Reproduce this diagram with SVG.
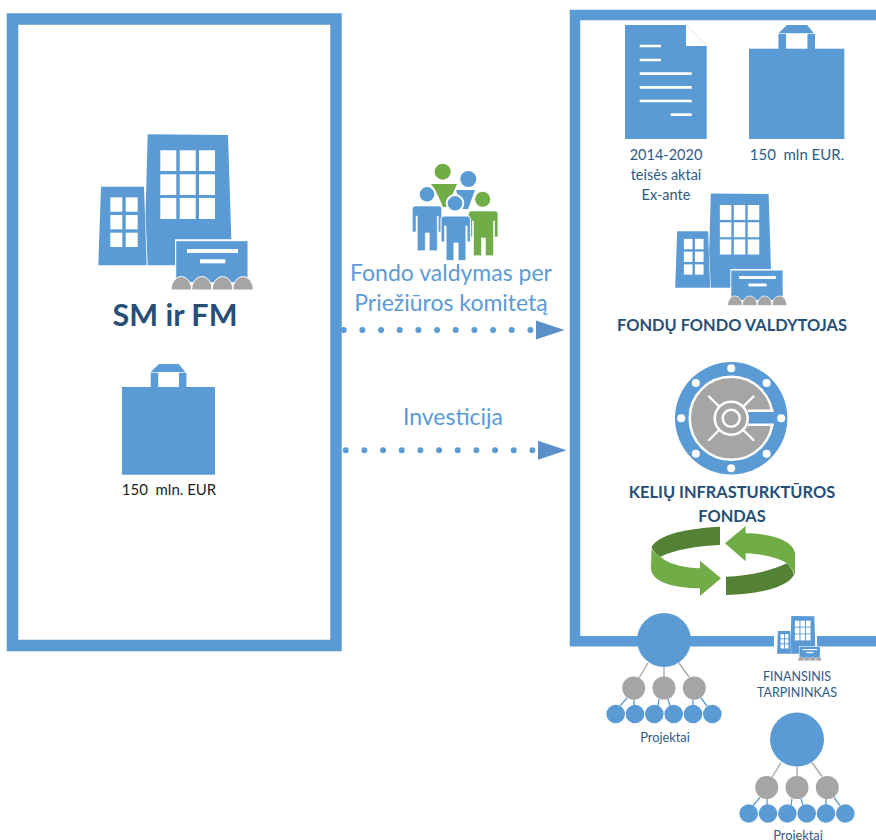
<svg xmlns="http://www.w3.org/2000/svg" xmlns:xlink="http://www.w3.org/1999/xlink" width="876" height="840" viewBox="0 0 876 840">
<style>
text{font-family:Lato,"Liberation Sans",sans-serif;text-anchor:middle}
.b{fill:#5b9bd5}.g{fill:#a5a5a5}.gr{fill:#70ad47}.w{fill:#fff}
.dk{fill:#264f78;font-weight:bold}.lab{fill:#2f5a85}.lt{fill:#5b9bd5}
.fr{fill:none;stroke:#5b9bd5}
.dots{fill:none;stroke:#5b9bd5;stroke-width:6;stroke-linecap:round;stroke-dasharray:0 18.67}
</style>
<defs>
<marker id="arr" markerUnits="userSpaceOnUse" markerWidth="30" markerHeight="20" refX="0" refY="10" orient="auto"><path d="M0,0.5L28.5,10L0,19.5Z" fill="#5b8fc9"/></marker>
<g id="building">
<path class="b" d="M147.7,134.3L228,135L231.3,239.3H175V265.3H147.7L145.5,215Z"/>
<path class="b" d="M101,186.7H144L146.7,265.3H98.3Z"/>
<g class="w">
<rect x="160.3" y="150.3" width="16" height="20.7"/><rect x="179.7" y="150.3" width="16" height="20.7"/><rect x="199" y="150.3" width="16" height="20.7"/>
<rect x="160.3" y="174.3" width="16" height="20.7"/><rect x="179.7" y="174.3" width="16" height="20.7"/><rect x="199" y="174.3" width="16" height="20.7"/>
<rect x="160.3" y="198" width="16" height="21"/><rect x="179.7" y="198" width="16" height="21"/><rect x="199" y="198" width="16" height="21"/>
<rect x="110.3" y="197.3" width="12" height="14.4"/><rect x="125.7" y="197.3" width="12" height="14.4"/>
<rect x="110.3" y="215" width="12" height="14.3"/><rect x="125.7" y="215" width="12" height="14.3"/>
<rect x="110.3" y="232.7" width="12" height="14.3"/><rect x="125.7" y="232.7" width="12" height="14.3"/>
</g>
<rect class="b" x="175.7" y="240.7" width="72.3" height="42" stroke="#fff" stroke-width="1"/>
<rect class="w" x="187" y="249" width="51" height="4"/><rect class="w" x="200" y="259.3" width="25.3" height="4"/>
<path class="g" stroke="#fff" stroke-width="1" d="M171,290A10.3,13.5 0 0 1 191.6,290A10.3,13.5 0 0 1 212.2,290A10.3,13.5 0 0 1 232.8,290A10.3,13.5 0 0 1 253.4,290Z"/>
</g>
<g id="bag">
<rect class="b" x="122" y="387" width="93" height="87.7"/>
<rect class="b" x="150.7" y="372.7" width="7.5" height="15"/><rect class="b" x="179" y="372.7" width="7.4" height="15"/>
<path class="b" d="M150.7,372L159,364H178.7L185.3,372Z"/>
</g>
<g id="tree">
<path d="M648,663L639,678M664,667V677M679,663L689,677" stroke="#a5a5a5" stroke-width="1.3" fill="none"/>
<path d="M627,698L620,706M634,699V706M659,699L658,706M668,699L670,706M693,699V706M701,698L707,706" stroke="#5b9bd5" stroke-width="1.3" fill="none"/>
<circle class="b" cx="664" cy="640" r="27"/>
<circle class="g" cx="633.7" cy="688" r="11.5"/><circle class="g" cx="664" cy="688" r="11.5"/><circle class="g" cx="694.3" cy="688" r="11.5"/>
<circle class="b" cx="615.7" cy="714" r="9.3"/><circle class="b" cx="635" cy="714" r="9.3"/><circle class="b" cx="654.3" cy="714" r="9.3"/><circle class="b" cx="673.7" cy="714" r="9.3"/><circle class="b" cx="693" cy="714" r="9.3"/><circle class="b" cx="712.3" cy="714" r="9.3"/>
</g>
<path id="person" d="M3,0H26.4Q29.4,0 29.4,3V26H26V10H25V44.7H17V27H13V44.7H5V10H3.8V26H0V3Q0,0 3,0Z"/>
</defs>

<g id="frame-left"><rect class="fr" x="12.5" y="19" width="323.5" height="626.5" stroke-width="11.5"/></g>
<g id="frame-right"><path class="fr" stroke-width="10.5" d="M876,15H575V641.3H876"/></g>

<g id="sm-fm">
<use xlink:href="#building" href="#building"/>
<text class="dk" x="175" y="326" font-size="30.5">SM ir FM</text>
</g>
<g id="budget-left">
<use xlink:href="#bag" href="#bag"/>
<text x="169" y="495" font-size="15" fill="#222"><tspan xml:space="preserve">150  mln. EUR</tspan></text>
</g>
<g id="committee">
<circle class="gr" cx="442.7" cy="171.7" r="8"/><path class="gr" d="M431,184H457L447,207H443Q437,192 431,184Z"/>
<circle class="b" cx="468.3" cy="179" r="8"/><path class="b" d="M456,190H475L468,209H462Z"/>
<circle class="b" cx="427" cy="194.3" r="8.3" stroke="#fff" stroke-width="2"/>
<use xlink:href="#person" href="#person" class="b" x="412.3" y="206" stroke="#fff" stroke-width="0.6"/>
<use xlink:href="#person" href="#person" class="gr" x="468.5" y="211" stroke="#fff" stroke-width="0.6"/>
<circle class="gr" cx="482.7" cy="199.3" r="8" stroke="#fff" stroke-width="1"/>
<circle class="b" cx="455" cy="203.3" r="8.3" stroke="#fff" stroke-width="2"/>
<use xlink:href="#person" href="#person" class="b" x="441" y="216" stroke="#fff" stroke-width="1"/>
<text class="lt" x="451" y="281" font-size="23">Fondo valdymas per</text>
<text class="lt" x="451" y="311" font-size="23">Priežiūros komitetą</text>
</g>
<g id="investment-label"><text class="lt" x="453" y="425" font-size="23">Investicija</text></g>

<g id="connectors">
<path class="dots" d="M343.7,330H536" marker-end="url(#arr)"/>
<path class="dots" d="M345.7,450.3H538" marker-end="url(#arr)"/>
</g>

<g id="legal-doc">
<path class="b" d="M625,25H686L706.7,46V139H625Z"/>
<path class="w" d="M686,25V46H706.7Z"/>
<path d="M639.7,46H661M639.7,60H661M639.7,73.7H691.7M639.7,87.3H691.7M639.7,101H691.7M670.7,114.7H691.7" stroke="#fff" stroke-width="2.7" fill="none"/>
<text class="lab" x="666" y="160" font-size="14.5">2014-2020</text>
<text class="lab" x="666" y="180" font-size="14.5">teisės aktai</text>
<text class="lab" x="666" y="200" font-size="14.5">Ex-ante</text>
</g>
<g id="budget-right">
<use xlink:href="#bag" href="#bag" transform="translate(749,25) scale(1.025,1.03) translate(-122,-364)"/>
<text class="lab" x="797" y="160" font-size="15"><tspan xml:space="preserve">150  mln EUR.</tspan></text>
</g>
<g id="fund-manager">
<use xlink:href="#building" href="#building" transform="translate(675,193.3) scale(.72) translate(-98,-134)"/>
<text class="dk" x="732" y="331" font-size="16.4">FONDŲ FONDO VALDYTOJAS</text>
</g>
<g id="road-fund">
<circle class="b" cx="731.2" cy="418.3" r="56.2"/>
<g class="w"><circle cx="731.2" cy="368.3" r="4"/><circle cx="731.2" cy="468.3" r="4"/><circle cx="681.2" cy="418.3" r="4"/><circle cx="781.2" cy="418.3" r="4"/><circle cx="695.8" cy="382.9" r="4"/><circle cx="766.6" cy="382.9" r="4"/><circle cx="695.8" cy="453.7" r="4"/><circle cx="766.6" cy="453.7" r="4"/></g>
<circle class="g" cx="731.2" cy="418.3" r="41.5" stroke="#fff" stroke-width="2.5"/>
<rect class="w" x="748" y="409.5" width="25.5" height="16.5"/>
<rect class="b" x="748" y="412" width="28" height="11.5"/>
<path d="M709,396.5L753.5,440M753.5,396.5L709,440" stroke="#fff" stroke-width="2.4" stroke-linecap="round"/>
<circle class="g" cx="731.2" cy="418.3" r="16.5" stroke="#fff" stroke-width="2.5"/>
<circle class="g" cx="731.2" cy="418.3" r="8.5" stroke="#fff" stroke-width="2.5"/>
<text class="dk" x="732" y="498" font-size="16.4">KELIŲ INFRASTURKTŪROS</text>
<text class="dk" x="732" y="522" font-size="16.4">FONDAS</text>
</g>
<g id="cycle" transform="translate(640,520) scale(.3333)">
<path fill="#548235" d="M240,20C150,25 60,40 35,80C38,95 50,103 62,110C100,90 170,78 240,75Z"/>
<path class="gr" d="M35,80C35,95 50,103 62,110C80,130 130,143 180,145V122L243,175L180,228V205C100,205 33,185 33,145Z"/>
<path fill="#548235" d="M258,170V225C350,222 440,205 462,165C458,150 450,138 440,130C390,155 320,168 258,170Z"/>
<path class="gr" d="M317,18L255,70L317,124V100C370,102 420,115 440,130C450,138 460,152 465,165V100C460,60 390,40 317,40Z"/>
</g>

<g id="intermediary">
<rect class="w" x="774" y="630" width="43" height="20"/>
<use xlink:href="#building" href="#building" transform="translate(777,616) scale(.287) translate(-98,-134)"/>
<text class="lab" x="797" y="681" font-size="12.5">FINANSINIS</text>
<text class="lab" x="797" y="697" font-size="12.5">TARPININKAS</text>
</g>
<g id="projects-1">
<use xlink:href="#tree" href="#tree"/>
<text class="lab" x="665" y="742" font-size="12.8">Projektai</text>
</g>
<g id="projects-2">
<use xlink:href="#tree" href="#tree" transform="translate(133,99.5)"/>
<text class="lab" x="798" y="840" font-size="12.8">Projektai</text>
</g>
</svg>
